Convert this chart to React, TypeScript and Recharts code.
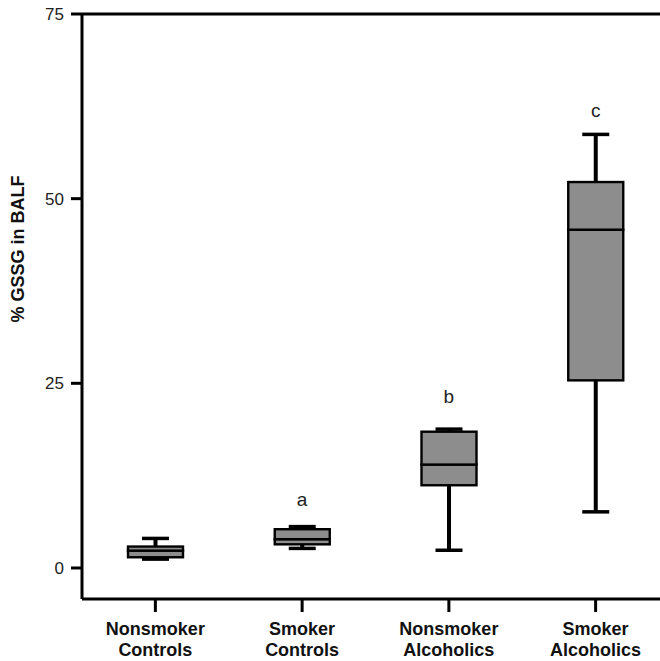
import React from "react"
import {
  ComposedChart,
  Bar,
  Scatter,
  XAxis,
  YAxis,
  ReferenceLine,
} from "recharts"

// groups on the x axis
const categories = [
  "Nonsmoker Controls",
  "Smoker Controls",
  "Nonsmoker Alcoholics",
  "Smoker Alcoholics",
]

// box plot values (% GSSG in BALF)
const mins = [1.2, 2.65, 2.4, 7.6]
const q1s = [1.45, 3.2, 11.2, 25.4]
const medians = [2.35, 3.9, 14.0, 45.8]
const q3s = [2.9, 5.25, 18.45, 52.25]
const maxs = [4.0, 5.6, 18.8, 58.7]

// significance letters and the height they sit at
const letters = ["", "a", "b", "c"]
const letterYs = [null, 9.3, 23.2, 62.0]

const yTicks = [0, 25, 50, 75]

const data = categories.map((name, i) => ({
  name,
  base: mins[i],
  lowWhisker: q1s[i] - mins[i],
  boxLow: medians[i] - q1s[i],
  boxHigh: q3s[i] - medians[i],
  highWhisker: maxs[i] - q3s[i],
  letter: letters[i],
  letterY: letterYs[i],
}))

const FONT = "Arial, 'Liberation Sans', sans-serif"
const BOX_FILL = "#8d8d8d"
const CAP = 27

function LowWhisker(props: any) {
  const { x, y, width, height } = props
  const cx = x + width / 2
  return (
    <g>
      <line x1={cx} x2={cx} y1={y} y2={y + height} stroke="#000" strokeWidth={4} />
      <line x1={cx - CAP / 2} x2={cx + CAP / 2} y1={y + height} y2={y + height} stroke="#000" strokeWidth={3.5} />
    </g>
  )
}

function HighWhisker(props: any) {
  const { x, y, width, height } = props
  const cx = x + width / 2
  return (
    <g>
      <line x1={cx} x2={cx} y1={y} y2={y + height} stroke="#000" strokeWidth={4} />
      <line x1={cx - CAP / 2} x2={cx + CAP / 2} y1={y} y2={y} stroke="#000" strokeWidth={3.5} />
    </g>
  )
}

function BoxPart(props: any) {
  const { x, y, width, height } = props
  return (
    <rect x={x} y={y} width={width} height={Math.max(height, 0)} fill={BOX_FILL} stroke="#000" strokeWidth={2.4} />
  )
}

function Letter(props: any) {
  const { cx, cy, payload } = props
  if (!payload || !payload.letter || cy == null || isNaN(cy)) return null
  return (
    <text x={cx} y={cy} textAnchor="middle" dominantBaseline="central" fontSize={19} fill="#222" fontFamily={FONT}>
      {payload.letter}
    </text>
  )
}

function CategoryTick(props: any) {
  const { x, y, payload } = props
  const lines = String(payload.value).split(" ")
  return (
    <text x={x} y={y} textAnchor="middle" fontSize={18} fontWeight="bold" fill="#111" fontFamily={FONT}>
      {lines.map((l, i) => (
        <tspan key={i} x={x} dy={i === 0 ? 23 : 21}>
          {l}
        </tspan>
      ))}
    </text>
  )
}

function YLabel() {
  return (
    <text
      x={18}
      y={249}
      transform="rotate(-90, 18, 249)"
      textAnchor="middle"
      dominantBaseline="central"
      fontSize={18}
      fontWeight="bold"
      fill="#111"
      fontFamily={FONT}
    >
      % GSSG in BALF
    </text>
  )
}

export default function App() {
  return (
    <div style={{ position: "absolute", left: 0, top: 0, width: 660, height: 661, overflow: "hidden", background: "#fff" }}>
      <ComposedChart
        width={680}
        height={661}
        data={data}
        margin={{ top: 14, right: 11, bottom: 0, left: 0 }}
        barSize={55}
      >
        <XAxis
          dataKey="name"
          height={62}
          interval={0}
          tickSize={13}
          tickMargin={0}
          axisLine={{ stroke: "#000", strokeWidth: 3 }}
          tickLine={{ stroke: "#000", strokeWidth: 3 }}
          tick={<CategoryTick />}
        />
        <YAxis
          type="number"
          width={82}
          domain={[-4.2, 75]}
          ticks={yTicks}
          allowDataOverflow
          tickSize={11}
          tickMargin={7}
          axisLine={{ stroke: "#000", strokeWidth: 3 }}
          tickLine={{ stroke: "#000", strokeWidth: 3 }}
          tick={{ fill: "#222", fontSize: 17, fontFamily: FONT }}
          label={{ content: () => <YLabel /> }}
        />
        <ReferenceLine y={75} stroke="#000" strokeWidth={3} />
        <Bar dataKey="base" stackId="box" fill="none" isAnimationActive={false} />
        <Bar dataKey="lowWhisker" stackId="box" shape={LowWhisker} isAnimationActive={false} />
        <Bar dataKey="boxLow" stackId="box" shape={BoxPart} isAnimationActive={false} />
        <Bar dataKey="boxHigh" stackId="box" shape={BoxPart} isAnimationActive={false} />
        <Bar dataKey="highWhisker" stackId="box" shape={HighWhisker} isAnimationActive={false} />
        <Scatter dataKey="letterY" shape={Letter} isAnimationActive={false} />
      </ComposedChart>
    </div>
  )
}
